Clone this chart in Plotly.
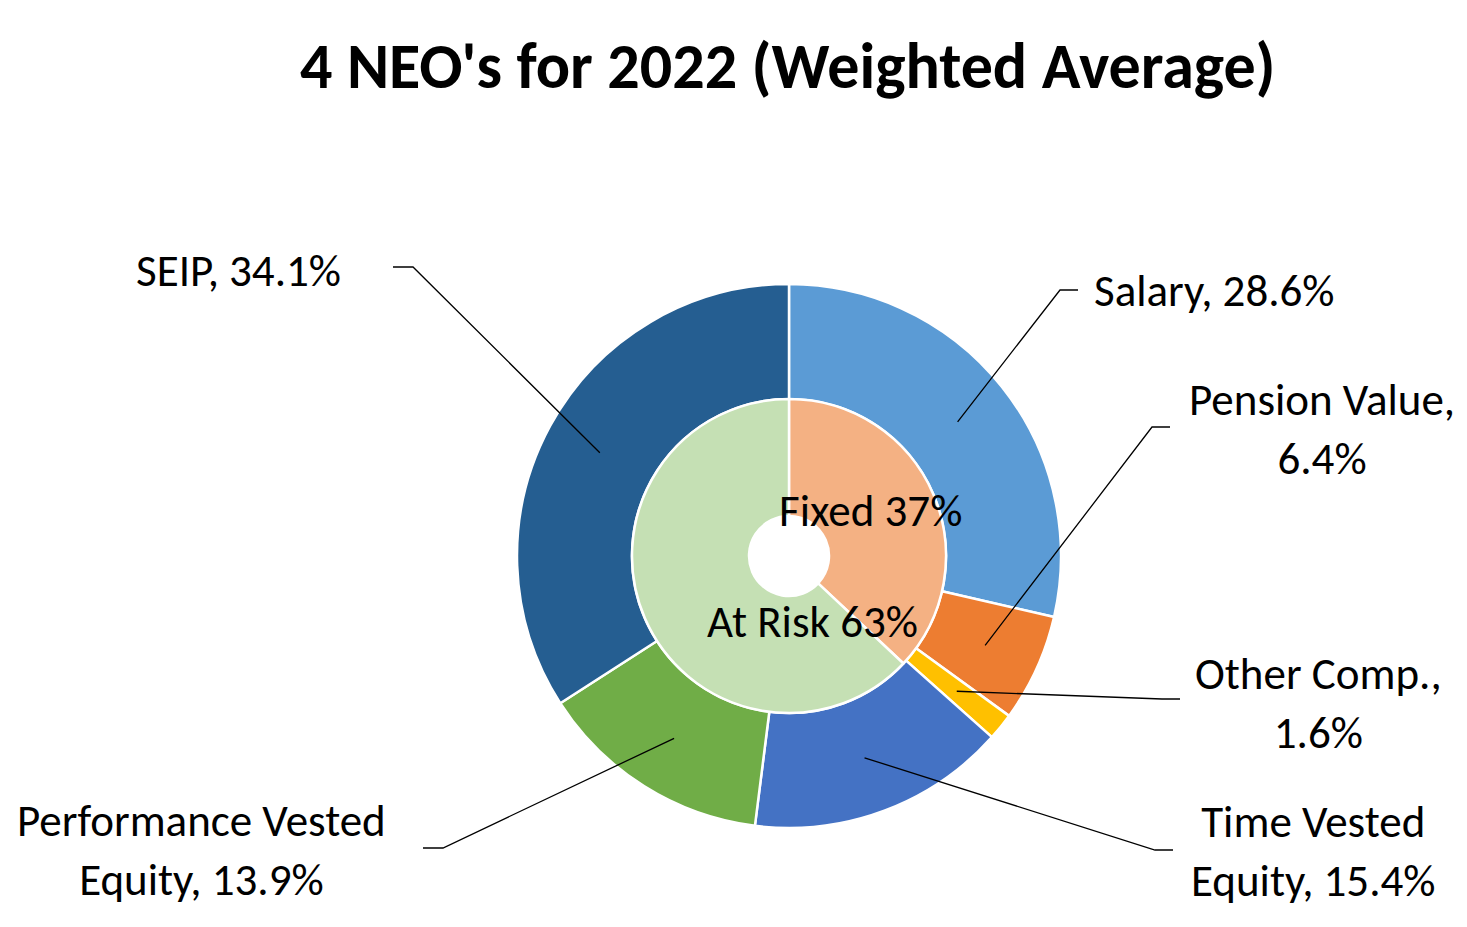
import math
import plotly.graph_objects as go

W, H = 1467, 927

outer_labels = ["Salary", "Pension Value", "Other Comp.", "Time Vested Equity",
                "Performance Vested Equity", "SEIP"]
outer_values = [28.6, 6.4, 1.6, 15.4, 13.9, 34.1]
outer_colors = ["#5B9BD5", "#ED7D31", "#FFC000", "#4472C4", "#70AD47", "#255E91"]

inner_labels = ["Fixed", "At Risk"]
inner_values = [37, 63]
inner_colors = ["#F4B183", "#C5E0B4"]

title_text = "4 NEO's for 2022 (Weighted Average)"
FONT = "Carlito, Lato, sans-serif"
LABEL_SIZE = 45

# geometry (pixels)
CX, CY = 789, 556
R_OUT, R_MID, R_IN = 272, 157, 40


def px(x):
    return x / W


def py(y):
    return 1 - y / H


fig = go.Figure()
fig.add_trace(go.Pie(
    labels=outer_labels, values=outer_values, sort=False, direction="clockwise",
    rotation=0, hole=R_MID / R_OUT, textinfo="none", hoverinfo="label+percent",
    marker=dict(colors=outer_colors, line=dict(color="white", width=2.5)),
    domain=dict(x=[px(CX - R_OUT), px(CX + R_OUT)], y=[py(CY + R_OUT), py(CY - R_OUT)]),
    showlegend=False,
))
fig.add_trace(go.Pie(
    labels=inner_labels, values=inner_values, sort=False, direction="clockwise",
    rotation=0, hole=R_IN / R_MID, textinfo="none", hoverinfo="label+percent",
    marker=dict(colors=inner_colors, line=dict(color="white", width=2.5)),
    domain=dict(x=[px(CX - R_MID), px(CX + R_MID)], y=[py(CY + R_MID), py(CY - R_MID)]),
    showlegend=False,
))

# label layout: (text, label x, label y, xanchor, elbow x, elbow y, end x)
label_layout = [
    ("Salary, 28.6%", 1092, 290, "left", 1060, 290, 1078),
    ("Pension Value,<br>6.4%", 1322, 429, "center", 1152, 427, 1170),
    ("Other Comp.,<br>1.6%", 1318, 703, "center", 1162, 699, 1180),
    ("Time Vested<br>Equity, 15.4%", 1313, 851, "center", 1155, 850, 1173),
    ("Performance Vested<br>Equity, 13.9%", 201, 850, "center", 443, 848, 423),
    ("SEIP, 34.1%", 343, 270, "right", 413, 267, 393),
]

total = sum(outer_values)
cum = 0
shapes = []
annotations = []
r_anchor = (R_OUT + R_MID) / 2 + 1
for val, (txt, lx, ly, xa, ex, ey, endx) in zip(outer_values, label_layout):
    mid = (cum + val / 2) / total * 2 * math.pi
    cum += val
    sx = CX + r_anchor * math.sin(mid)
    sy = CY - r_anchor * math.cos(mid)
    path = f"M {px(sx)},{py(sy)} L {px(ex)},{py(ey)} L {px(endx)},{py(ey)}"
    shapes.append(dict(type="path", xref="paper", yref="paper", path=path,
                       line=dict(color="black", width=1.3)))
    annotations.append(dict(text=txt, x=px(lx), y=py(ly), xref="paper", yref="paper",
                            xanchor=xa, yanchor="middle", showarrow=False, align="center",
                            font=dict(family=FONT, size=LABEL_SIZE, color="black")))

# inner ring labels
annotations.append(dict(text=f"{inner_labels[0]} {inner_values[0]}%", x=px(870), y=py(510),
                        xref="paper", yref="paper", showarrow=False,
                        xanchor="center", yanchor="middle",
                        font=dict(family=FONT, size=LABEL_SIZE, color="black")))
annotations.append(dict(text=f"{inner_labels[1]} {inner_values[1]}%", x=px(812), y=py(621),
                        xref="paper", yref="paper", showarrow=False,
                        xanchor="center", yanchor="middle",
                        font=dict(family=FONT, size=LABEL_SIZE, color="black")))

# title
annotations.append(dict(text=f"<b>{title_text}</b>", x=px(788), y=py(66), xref="paper",
                        yref="paper", showarrow=False, xanchor="center", yanchor="middle",
                        font=dict(family=FONT, size=64, color="black")))

fig.update_layout(
    width=W, height=H, margin=dict(l=0, r=0, t=0, b=0),
    paper_bgcolor="white", plot_bgcolor="white",
    shapes=shapes, annotations=annotations,
)

fig.write_html("out.html", config={"displayModeBar": False},
               post_script="document.body.style.margin='0';")
